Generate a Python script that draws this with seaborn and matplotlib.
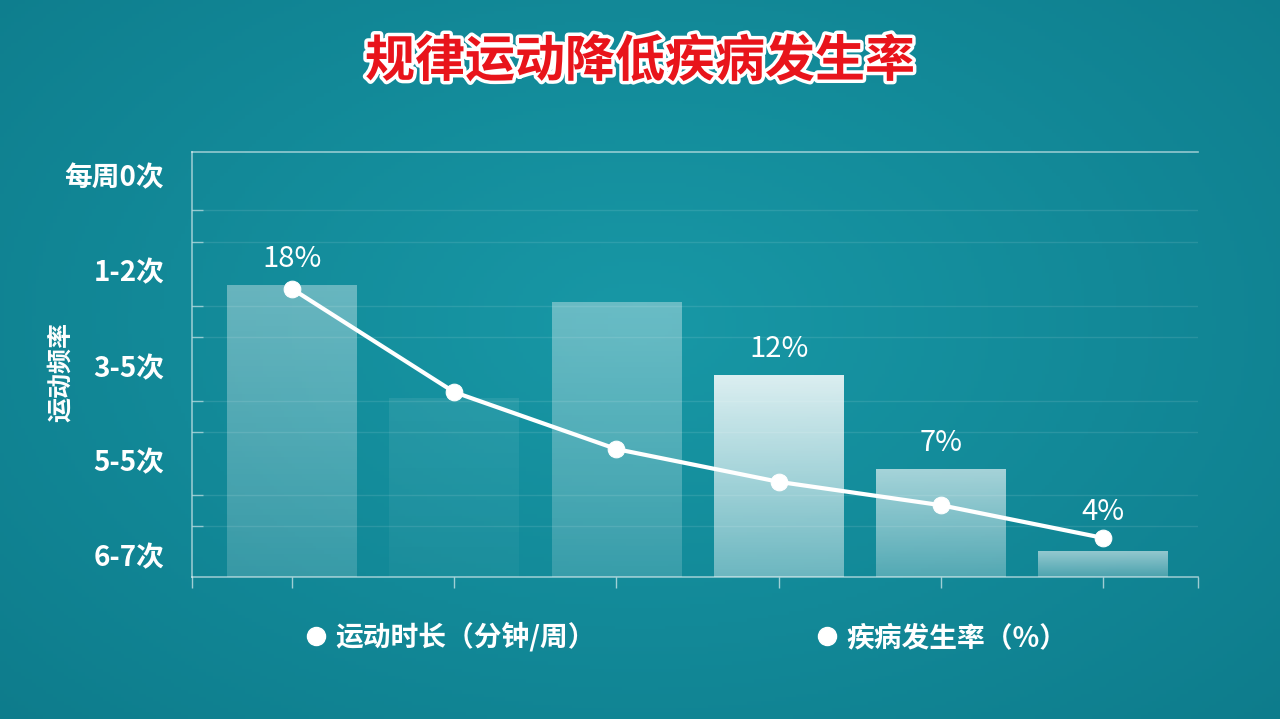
import numpy as np
import pandas as pd
import matplotlib.pyplot as plt
import matplotlib.patheffects as pe
from matplotlib.lines import Line2D
import seaborn as sns

# values, on a 0-100 plot scale (0 = x axis)
duration = [68.7, 42.1, 64.5, 47.5, 25.4, 5.9]      # 运动时长（分钟/周）, bars
incidence = [67.8, 43.5, 30.1, 22.4, 16.9, 9.2]     # 疾病发生率（%）, line
rate_labels = ["18%", "", "", "12%", "7%", "4%"]
bar_alpha = [0.36, 0.08, 0.36, 0.85, 0.62, 0.55]

freq_labels = ["每周0次", "1-2次", "3-5次", "5-5次", "6-7次"]
freq_pos = [94.6, 72.2, 49.6, 27.5, 5.2]

legend_labels = ["运动时长（分钟/周）", "疾病发生率（%）"]

sns.set_theme(style="white")
plt.rcParams['font.family'] = ['Noto Sans CJK SC', 'DejaVu Sans']

fig = plt.figure(figsize=(12.8, 7.19), dpi=100)

# teal background with a soft glow in the middle
bg = fig.add_axes([0, 0, 1, 1], zorder=-10)
yy, xx = np.mgrid[0:1:200j, 0:1:360j]
r = np.sqrt(((xx - 0.5) / 0.75) ** 2 + ((yy - 0.45) / 0.85) ** 2)
t = np.clip(r, 0, 1)[..., None]
c_in = np.array([24, 152, 166]) / 255
c_out = np.array([13, 122, 138]) / 255
bg.imshow(c_in * (1 - t) + c_out * t, aspect='auto', extent=[0, 1, 0, 1])
bg.axis('off')

ax = fig.add_axes([0.15, 0.1975, 0.786, 0.591])
ax.patch.set_alpha(0)

df = pd.DataFrame({'grp': range(len(duration)), 'duration': duration,
                   'incidence': incidence})

sns.barplot(data=df, x='grp', y='duration', ax=ax, width=0.8, color='white')
# replace flat bars with a white fade
for p, a in zip(ax.patches, bar_alpha):
    p.set_facecolor('none')
    p.set_edgecolor('none')
    x0, y0, w, h = p.get_x(), p.get_y(), p.get_width(), p.get_height()
    grad = np.ones((100, 1, 4))
    grad[..., 3] = np.linspace(a, a * 0.45, 100)[:, None]
    ax.imshow(grad, extent=[x0, x0 + w, y0, y0 + h], aspect='auto',
              origin='upper', zorder=2)

sns.lineplot(data=df, x='grp', y='incidence', ax=ax, color='white', lw=3,
             marker='o', markersize=12, markeredgecolor='white', zorder=4)

for i, lab in enumerate(rate_labels):
    if lab:
        top = max(duration[i], incidence[i])
        ax.annotate(lab, (i, top), xytext=(0, 8), textcoords='offset points',
                    ha='center', va='bottom', color='white', fontsize=21,
                    fontweight='medium', zorder=5)

ax.set_xlim(-0.617, 5.586)
ax.set_ylim(0, 100)

ax.set_xticks(list(range(len(duration))) + [-0.617, 5.586])
ax.set_xticklabels([])
ax.tick_params(axis='x', bottom=True, direction='out', length=8, width=1,
               color=(1, 1, 1, 0.6))
ax.set_xlabel('')

ax.set_yticks(freq_pos)
ax.set_yticklabels(freq_labels, fontsize=20, fontweight='bold', color='white')
ax.tick_params(axis='y', length=0, pad=20)
minor = []
for hi, lo in zip(freq_pos[:-1], freq_pos[1:]):
    minor += [hi - (hi - lo) * 0.37, hi - (hi - lo) * 0.7]
ax.set_yticks(minor, minor=True)
ax.tick_params(axis='y', which='minor', left=True, length=8, width=1,
               color=(1, 1, 1, 0.5), direction='in')
ax.grid(axis='y', which='minor', color='white', alpha=0.10, lw=1)
ax.set_ylabel('')

for side in ['left', 'top', 'bottom']:
    ax.spines[side].set_visible(True)
    ax.spines[side].set_color((1, 1, 1, 0.55))
    ax.spines[side].set_linewidth(1.2)
ax.spines['right'].set_visible(False)

fig.text(62 / 1280, 1 - 372 / 719, "运动频率", rotation=90, ha='center',
         va='center', fontsize=18, fontweight='bold', color='white')

fig.text(0.5, 1 - 62 / 719, "规律运动降低疾病发生率", ha='center', va='center',
         fontsize=36, fontweight='bold', color='#e8141b',
         path_effects=[pe.withStroke(linewidth=5, foreground='white')])

handles = [Line2D([], [], marker='o', ls='none', color='white', markersize=13)
           for _ in legend_labels]
leg = fig.legend(handles, legend_labels, loc='center', ncol=2, frameon=False,
                 bbox_to_anchor=(0.537, 1 - 637 / 719), columnspacing=8.0,
                 handlelength=0.6, handletextpad=0.4,
                 prop={'size': 20, 'weight': 'bold'})
for txt in leg.get_texts():
    txt.set_color('white')

fig.savefig('out.png', dpi=100)
